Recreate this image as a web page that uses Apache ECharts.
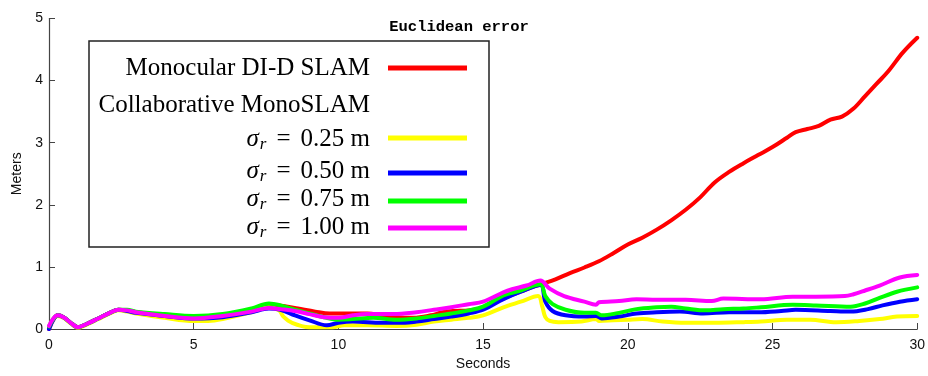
<!DOCTYPE html>
<html>
<head>
<meta charset="utf-8">
<script src="https://cdn.jsdelivr.net/npm/echarts@6/dist/echarts.min.js"></script>
<style>
  html, body { margin: 0; padding: 0; background: #fff; }
  #chart { width: 928px; height: 376px; }
</style>
</head>
<body>
<div id="chart"></div>
<script>
// Euclidean error over time: [seconds, meters]
const monocularDID = [
  [0,0],[0.15,0.15],[0.3,0.22],[0.5,0.19],[0.75,0.1],[1,0.03],[1.3,0.08],[1.7,0.17],[2.1,0.26],[2.4,0.31],[2.7,0.3],
  [3,0.27],[4,0.22],[5,0.18],[6,0.22],[7,0.31],[7.6,0.39],[8.1,0.37],[8.6,0.33],[9.2,0.28],[9.7,0.25],[10.4,0.25],
  [11,0.25],[11.5,0.22],[12,0.19],[12.6,0.18],[13.2,0.22],[13.6,0.27],[14,0.29],[14.5,0.3],[15,0.34],[15.5,0.45],
  [16,0.55],[16.5,0.64],[17,0.72],[17.5,0.8],[18,0.9],[18.5,0.99],[19,1.09],[19.5,1.22],[20,1.36],[20.5,1.47],
  [21,1.6],[21.5,1.75],[22,1.92],[22.5,2.12],[23,2.36],[23.5,2.53],[24,2.67],[24.5,2.8],[25,2.93],[25.5,3.08],
  [25.8,3.17],[26.2,3.22],[26.6,3.27],[27,3.37],[27.4,3.42],[27.8,3.55],[28.2,3.75],[28.6,3.95],[29,4.15],
  [29.5,4.45],[30,4.69]
];
const sigma025 = [
  [0,0.04],[0.15,0.16],[0.3,0.21],[0.5,0.18],[0.75,0.09],[1,0.02],[1.3,0.07],[1.7,0.16],[2.1,0.25],[2.4,0.3],[2.7,0.28],
  [3,0.25],[4,0.18],[5,0.13],[5.5,0.13],[6,0.16],[7,0.27],[7.6,0.35],[7.95,0.3],[8.1,0.2],[8.4,0.1],[9,0.03],[9.8,0.03],
  [10.2,0.06],[11,0.06],[12,0.05],[12.7,0.07],[13.3,0.12],[13.9,0.15],[14.5,0.18],[15,0.22],[15.7,0.35],[16.3,0.44],
  [16.9,0.53],[17.04,0.37],[17.15,0.19],[17.3,0.13],[17.6,0.11],[18.4,0.12],[18.9,0.16],[19,0.13],[19.5,0.14],
  [20,0.15],[20.5,0.16],[21.2,0.12],[22,0.1],[23,0.1],[24,0.11],[24.6,0.12],[25.5,0.15],[26.3,0.15],[27.2,0.11],
  [28,0.13],[28.7,0.16],[29.3,0.2],[30,0.21]
];
const sigma050 = [
  [0,0],[0.15,0.15],[0.3,0.22],[0.5,0.19],[0.75,0.1],[1,0.03],[1.3,0.08],[1.7,0.17],[2.1,0.26],[2.4,0.31],[2.7,0.29],
  [3,0.26],[4,0.21],[5,0.17],[6,0.19],[7,0.27],[7.6,0.33],[8,0.31],[8.5,0.22],[9,0.14],[9.6,0.06],[10,0.1],[10.5,0.12],
  [11.5,0.1],[12.3,0.1],[12.7,0.12],[13.3,0.16],[13.9,0.2],[14.5,0.25],[15,0.31],[15.7,0.48],[16.3,0.6],[16.98,0.71],
  [17.15,0.44],[17.4,0.29],[17.85,0.22],[18.5,0.2],[18.9,0.21],[19.1,0.17],[19.7,0.2],[20.3,0.25],[21,0.27],
  [21.8,0.28],[22.6,0.25],[23.5,0.27],[24.5,0.27],[25.3,0.29],[25.8,0.31],[27,0.29],[27.7,0.28],[28.3,0.32],
  [28.8,0.38],[29.4,0.44],[30,0.48]
];
const sigma075 = [
  [0,0.04],[0.15,0.16],[0.3,0.22],[0.5,0.19],[0.75,0.1],[1,0.03],[1.3,0.08],[1.7,0.17],[2.1,0.26],[2.4,0.31],[2.7,0.31],
  [3,0.28],[4,0.24],[5,0.21],[6,0.24],[7,0.33],[7.6,0.41],[8,0.38],[8.5,0.31],[9,0.25],[9.5,0.19],[10,0.15],[10.5,0.16],
  [11.2,0.18],[12,0.15],[12.7,0.17],[13.3,0.21],[13.9,0.25],[14.5,0.3],[15,0.36],[15.7,0.54],[16.3,0.62],[16.98,0.72],
  [17.15,0.53],[17.4,0.4],[17.85,0.31],[18.5,0.26],[18.9,0.26],[19.1,0.22],[19.7,0.26],[20.3,0.32],[21,0.35],
  [21.5,0.36],[22,0.33],[22.7,0.3],[23.3,0.32],[24,0.33],[24.6,0.35],[25.7,0.39],[26.5,0.38],[27.7,0.36],
  [28.2,0.41],[28.7,0.5],[29.3,0.6],[30,0.67]
];
const sigma100 = [
  [0,0.05],[0.15,0.17],[0.3,0.22],[0.5,0.19],[0.75,0.1],[1,0.03],[1.3,0.08],[1.7,0.17],[2.1,0.26],[2.4,0.31],[2.7,0.3],
  [3,0.27],[4,0.21],[5,0.17],[6,0.21],[7,0.28],[7.6,0.34],[8,0.32],[8.5,0.29],[9,0.24],[9.5,0.19],[10,0.18],[10.5,0.22],
  [11,0.24],[11.9,0.24],[12.7,0.27],[13.3,0.31],[13.9,0.35],[14.5,0.4],[15,0.44],[15.7,0.59],[16,0.64],[16.5,0.7],
  [16.98,0.78],[17.3,0.65],[17.8,0.53],[18.5,0.44],[18.9,0.39],[19,0.43],[19.7,0.45],[20.3,0.48],[21,0.47],[22,0.47],
  [22.9,0.45],[23.3,0.49],[24.6,0.48],[25.7,0.52],[26.5,0.52],[27.5,0.53],[27.8,0.56],[28.2,0.62],[28.7,0.7],
  [29.4,0.83],[30,0.87]
];

const xTicks = [0, 5, 10, 15, 20, 25, 30];
const yTicks = [0, 1, 2, 3, 4, 5];
const sigmaValues = ['0.25', '0.50', '0.75', '1.00'];

const COLORS = { red: '#ff0000', yellow: '#ffff00', blue: '#0000ff', green: '#00ff00', magenta: '#ff00ff' };

function lineSeries(name, data, color) {
  return {
    name, type: 'line', data,
    showSymbol: false, smooth: 0.35,
    lineStyle: { color, width: 4, cap: 'round', join: 'round' },
    itemStyle: { color },
    emphasis: { disabled: true },
    animation: false
  };
}

const SERIF = '"Liberation Serif", "DejaVu Serif", serif';
const FS = 25;
const legendRight = 370;
const sigmaRich = {
  s: { fontFamily: SERIF, fontStyle: 'italic', fontSize: FS, fill: '#000' },
  r: { fontFamily: SERIF, fontStyle: 'italic', fontSize: 17, fill: '#000', padding: [11, 0, 0, 1] },
  e: { fontFamily: SERIF, fontSize: FS, fill: '#000', padding: [0, 10, 0, 10] },
  n: { fontFamily: SERIF, fontSize: FS, fill: '#000' }
};
function sigmaText(v, cy) {
  return {
    type: 'text', x: legendRight, y: cy, z: 101,
    style: {
      text: '{s|σ}{r|r}{e|=}{n|' + v + ' m}',
      rich: sigmaRich, align: 'right', verticalAlign: 'middle'
    }
  };
}
function plainText(t, cy) {
  return {
    type: 'text', x: legendRight, y: cy, z: 101,
    style: { text: t, font: FS + 'px ' + SERIF, fill: '#000', align: 'right', verticalAlign: 'middle' }
  };
}
function sample(cy, color) {
  return {
    type: 'line', z: 101, shape: { x1: 388, y1: cy, x2: 467, y2: cy },
    style: { stroke: color, lineWidth: 5 }
  };
}

const chart = echarts.init(document.getElementById('chart'), null, { renderer: 'canvas' });
chart.setOption({
  backgroundColor: '#fff',
  animation: false,
  title: {
    text: 'Euclidean error', left: 454, top: 14, textAlign: 'center',
    textStyle: { fontFamily: '"Liberation Mono", "DejaVu Sans Mono", monospace', fontWeight: 'bold', fontSize: 15.5, color: '#000' }
  },
  grid: { left: 49, right: 9, top: 18.5, bottom: 46, containLabel: false },
  xAxis: {
    type: 'value', min: xTicks[0], max: xTicks[xTicks.length - 1], interval: 5,
    name: 'Seconds', nameLocation: 'middle', nameGap: 28,
    nameTextStyle: { fontFamily: '"Liberation Sans", Arial, sans-serif', fontSize: 14, color: '#111' },
    axisLine: { lineStyle: { color: '#444', width: 1.2 } },
    axisTick: { inside: true, length: 6, lineStyle: { color: '#444' } },
    axisLabel: { fontFamily: '"Liberation Sans", Arial, sans-serif', fontSize: 14, color: '#111', margin: 9 },
    splitLine: { show: false }
  },
  yAxis: {
    type: 'value', min: yTicks[0], max: yTicks[yTicks.length - 1], interval: 1,
    name: 'Meters', nameLocation: 'middle', nameGap: 23, nameRotate: 90,
    nameTextStyle: { fontFamily: '"Liberation Sans", Arial, sans-serif', fontSize: 14, color: '#111' },
    axisLine: { show: true, lineStyle: { color: '#444', width: 1.2 } },
    axisTick: { show: true, inside: true, length: 6, lineStyle: { color: '#444' } },
    axisLabel: { fontFamily: '"Liberation Sans", Arial, sans-serif', fontSize: 14, color: '#111', margin: 6 },
    splitLine: { show: false }
  },
  series: [
    lineSeries('Monocular DI-D SLAM', monocularDID, COLORS.red),
    lineSeries('σr = 0.25 m', sigma025, COLORS.yellow),
    lineSeries('σr = 0.50 m', sigma050, COLORS.blue),
    lineSeries('σr = 0.75 m', sigma075, COLORS.green),
    lineSeries('σr = 1.00 m', sigma100, COLORS.magenta)
  ],
  graphic: [
    { type: 'rect', z: 100, shape: { x: 89, y: 41, width: 400, height: 206 },
      style: { fill: '#fff', stroke: '#222', lineWidth: 1.5 } },
    plainText('Monocular DI-D SLAM', 68),
    sample(68, COLORS.red),
    plainText('Collaborative MonoSLAM', 105),
    sigmaText(sigmaValues[0], 139), sample(138, COLORS.yellow),
    sigmaText(sigmaValues[1], 171), sample(173, COLORS.blue),
    sigmaText(sigmaValues[2], 199), sample(201, COLORS.green),
    sigmaText(sigmaValues[3], 227), sample(228, COLORS.magenta)
  ]
});
</script>
</body>
</html>
